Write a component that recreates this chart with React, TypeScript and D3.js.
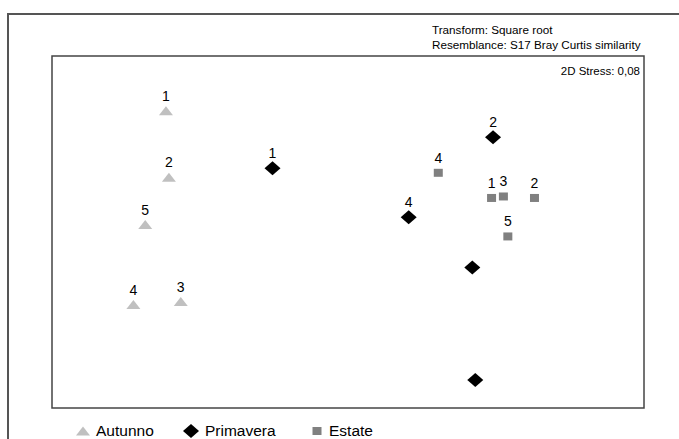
import React from "react";
import * as d3 from "d3";

// MDS coordinates (arbitrary units)
const autunnoLabels = ["1", "2", "5", "4", "3"];
const autunnoX = [-1.23, -1.21, -1.37, -1.45, -1.13];
const autunnoY = [0.82, 0.37, 0.05, -0.49, -0.47];

const primaveraLabels = ["1", "2", "4", "", ""];
const primaveraX = [-0.51, 0.98, 0.41, 0.84, 0.86];
const primaveraY = [0.43, 0.64, 0.10, -0.24, -1.0];

const estateLabels = ["4", "1", "3", "2", "5"];
const estateX = [0.61, 0.97, 1.05, 1.26, 1.08];
const estateY = [0.40, 0.23, 0.24, 0.23, -0.03];

const legendNames = ["Autunno", "Primavera", "Estate"];
const infoLines = ["Transform: Square root", "Resemblance: S17 Bray Curtis similarity"];
const stressText = "2D Stress: 0,08";

const W = 679;
const H = 439;
const box = { left: 52, top: 56, right: 644, bottom: 408 };

const FONT = "Liberation Sans, Arial, sans-serif";

function Marker({ kind, x, y }: { kind: string; x: number; y: number }) {
  if (kind === "tri") {
    return <path d={`M${x - 7},${y + 4.5} L${x + 7},${y + 4.5} L${x},${y - 4.5} Z`} fill="#c0c0c0" />;
  }
  if (kind === "dia") {
    return <path d={`M${x - 8},${y} L${x},${y - 7} L${x + 8},${y} L${x},${y + 7} Z`} fill="#000" />;
  }
  return <rect x={x - 4.5} y={y - 4} width={9} height={8} fill="#808080" />;
}

export default function App() {
  const xs = d3.scaleLinear().domain([-2, 2]).range([box.left, box.right]);
  const yHalf = (box.bottom - box.top) / 2 / ((box.right - box.left) / 4);
  const ys = d3.scaleLinear().domain([-yHalf, yHalf]).range([box.bottom, box.top]);

  const groups = [
    { kind: "tri", labels: autunnoLabels, X: autunnoX, Y: autunnoY },
    { kind: "dia", labels: primaveraLabels, X: primaveraX, Y: primaveraY },
    { kind: "sq", labels: estateLabels, X: estateX, Y: estateY },
  ];

  const legendX = [83, 191, 317];
  const legendTextX = [96, 205, 329];
  const legendKinds = ["tri", "dia", "sq"];

  return (
    <svg
      width={W}
      height={H}
      style={{ position: "absolute", left: 0, top: 0, display: "block", background: "#fff" }}
      fontFamily={FONT}
    >
      {/* outer frame extending past the image */}
      <path d={`M8,${H + 5} L8,14 L${W + 5},14`} fill="none" stroke="#555" strokeWidth={2} />
      {/* inner plot box */}
      <rect
        x={box.left}
        y={box.top}
        width={box.right - box.left}
        height={box.bottom - box.top}
        fill="none"
        stroke="#444"
        strokeWidth={1.5}
      />
      {infoLines.map((t, i) => (
        <text key={i} x={432} y={34 + i * 15} fontSize={11.7} fill="#000">
          {t}
        </text>
      ))}
      <text x={640} y={75} fontSize={11.5} textAnchor="end" fill="#000">
        {stressText}
      </text>

      {groups.map((g, gi) =>
        g.X.map((v, i) => {
          const px = xs(v);
          const py = ys(g.Y[i]);
          return (
            <g key={`${gi}-${i}`}>
              <Marker kind={g.kind} x={px} y={py} />
              {g.labels[i] && (
                <text x={px} y={py - 10} fontSize={14} textAnchor="middle" fill="#000">
                  {g.labels[i]}
                </text>
              )}
            </g>
          );
        })
      )}

      {legendNames.map((n, i) => (
        <g key={n}>
          <Marker kind={legendKinds[i]} x={legendX[i]} y={431} />
          <text x={legendTextX[i]} y={436} fontSize={15.5} fill="#000">
            {n}
          </text>
        </g>
      ))}
    </svg>
  );
}
